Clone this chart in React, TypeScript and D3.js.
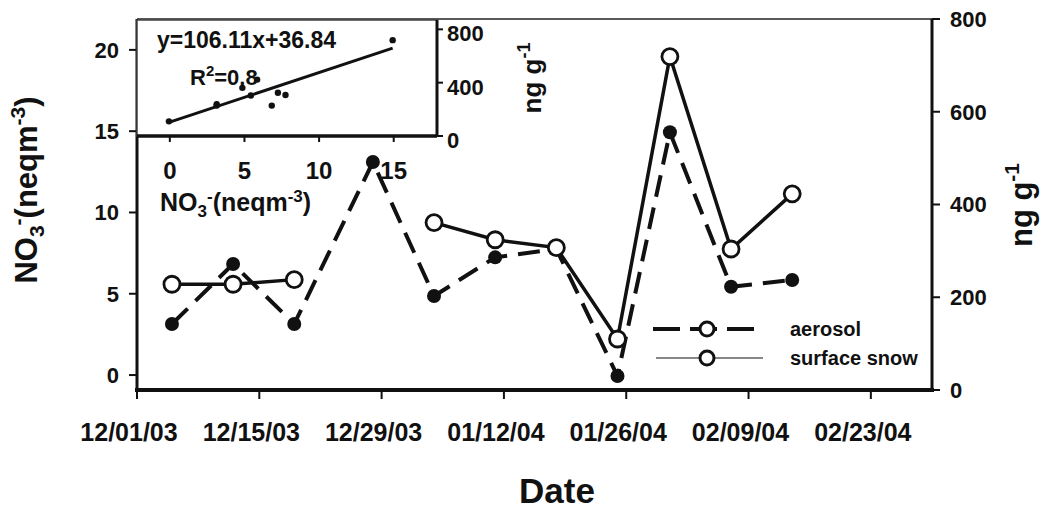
import React from 'react';
import * as d3 from 'd3';

// sampling dates and the two series (aerosol in neq m-3, surface snow in ng g-1)
const sampleDates = [
  '12/05/03', '12/12/03', '12/19/03', '12/28/03', '01/04/04', '01/11/04',
  '01/18/04', '01/25/04', '01/31/04', '02/07/04', '02/14/04',
];
const aerosolNeq = [3.14, 6.83, 3.14, 13.1, 4.86, 7.24, 7.75, -0.06, 14.93, 5.43, 5.85];
const snowNg = [228, 228, 238, null, 361, 324, 307, 110, 719, 304, 423];

const dateTicks = ['12/01/03', '12/15/03', '12/29/03', '01/12/04', '01/26/04', '02/09/04', '02/23/04'];
const leftTicks = [0, 5, 10, 15, 20];
const rightTicks = [0, 200, 400, 600, 800];
const insetXTicks = [0, 5, 10, 15];
const insetYTicks = [0, 400, 800];
const equationText = 'y=106.11x+36.84';
const r2Value = '=0.8';
const seriesNames = ['aerosol', 'surface snow'];

const FONT = "'Liberation Sans', Arial, Helvetica, sans-serif";
const parse = d3.timeParse('%m/%d/%y');

type Pt = { date: Date; aer: number; snow: number | null };

const App = () => {
  const left = 137, right = 932, top = 19, bottom = 390;

  const x = d3.scaleTime().domain([parse('12/01/03')!, parse('03/01/04')!]).range([left, right]);
  const yL = d3.scaleLinear().domain([-0.92, 21.9]).range([bottom, top]);
  const yR = d3.scaleLinear().domain([0, 800]).range([bottom, top]);

  const pts: Pt[] = sampleDates.map((d, i) => ({ date: parse(d)!, aer: aerosolNeq[i], snow: snowNg[i] }));

  const aerLine = d3.line<Pt>().x((d) => x(d.date)).y((d) => yL(d.aer));
  const snowLine = d3
    .line<Pt>()
    .defined((d) => d.snow != null)
    .x((d) => x(d.date))
    .y((d) => yR(d.snow as number));

  // inset scatter: aerosol vs snow on the same days
  const iLeft = 137, iRight = 437, iTop = 20, iBottom = 136;
  const ix = d3.scaleLinear().domain([-2.2, 17.9]).range([iLeft, iRight]);
  const iy = d3.scaleLinear().domain([0, 870]).range([iBottom, iTop]);
  const pairs = pts.filter((d) => d.snow != null);
  const mx = d3.mean(pairs, (d) => d.aer)!;
  const my = d3.mean(pairs, (d) => d.snow as number)!;
  const slope =
    d3.sum(pairs, (d) => (d.aer - mx) * ((d.snow as number) - my)) / d3.sum(pairs, (d) => (d.aer - mx) ** 2);
  const icpt = my - slope * mx;
  const [fx0, fx1] = d3.extent(pairs, (d) => d.aer) as [number, number];

  const bold = { fontFamily: FONT, fontWeight: 'bold' as const, fill: '#111' };

  return (
    <svg width={1055} height={520} style={{ position: 'absolute', left: 0, top: 0, background: '#fff' }}>
      {/* plot frame */}
      <line x1={left} x2={right} y1={top} y2={top} stroke="#222" strokeWidth={1.5} />
      <line x1={left} x2={left} y1={top} y2={bottom} stroke="#111" strokeWidth={3} />
      <line x1={right} x2={right} y1={top} y2={bottom} stroke="#111" strokeWidth={3} />
      <line x1={left - 2} x2={right + 2} y1={bottom} y2={bottom} stroke="#111" strokeWidth={4} />

      {/* left axis */}
      {leftTicks.map((t) => (
        <g key={'l' + t}>
          <line x1={left - 8} x2={left} y1={yL(t)} y2={yL(t)} stroke="#111" strokeWidth={2} />
          <text x={119} y={yL(t)} dy="0.36em" textAnchor="end" fontSize={22} {...bold}>
            {t}
          </text>
        </g>
      ))}
      {/* right axis */}
      {rightTicks.map((t) => (
        <g key={'r' + t}>
          <line x1={right} x2={right + 8} y1={yR(t)} y2={yR(t)} stroke="#111" strokeWidth={2} />
          <text x={950} y={yR(t)} dy="0.36em" textAnchor="start" fontSize={22} {...bold}>
            {t}
          </text>
        </g>
      ))}
      {/* date axis */}
      {dateTicks.map((t) => {
        const px = x(parse(t)!);
        return (
          <g key={t}>
            <line x1={px} x2={px} y1={bottom} y2={bottom + 9} stroke="#111" strokeWidth={2} />
            <text x={px - 8} y={441} textAnchor="middle" fontSize={25} {...bold}>
              {t}
            </text>
          </g>
        );
      })}

      {/* axis titles */}
      <text transform="translate(37,190) rotate(-90)" textAnchor="middle" fontSize={31} {...bold}>
        NO
        <tspan fontSize={21} dy={7}>3</tspan>
        <tspan fontSize={21} dy={-19}>-</tspan>
        <tspan dy={12}>(neqm</tspan>
        <tspan fontSize={21} dy={-12}>-3</tspan>
        <tspan dy={12}>)</tspan>
      </text>
      <text transform="translate(1032,205) rotate(-90)" textAnchor="middle" fontSize={31} {...bold}>
        ng g<tspan fontSize={21} dy={-13}>-1</tspan>
      </text>
      <text x={557} y={503} textAnchor="middle" fontSize={35} {...bold}>
        Date
      </text>

      {/* series */}
      <path d={aerLine(pts) || ''} fill="none" stroke="#111" strokeWidth={4} strokeDasharray="22 11" />
      {pts.map((d, i) => (
        <circle key={'a' + i} cx={x(d.date)} cy={yL(d.aer)} r={7} fill="#111" />
      ))}
      <path d={snowLine(pts) || ''} fill="none" stroke="#111" strokeWidth={3.5} />
      {pts
        .filter((d) => d.snow != null)
        .map((d, i) => (
          <circle key={'s' + i} cx={x(d.date)} cy={yR(d.snow as number)} r={8} fill="#fff" stroke="#111" strokeWidth={2.8} />
        ))}

      {/* legend */}
      <line x1={653} x2={754} y1={329} y2={329} stroke="#111" strokeWidth={4} strokeDasharray="27 10" />
      <circle cx={707} cy={329} r={7} fill="#fff" stroke="#111" strokeWidth={3} />
      <text x={790} y={329} dy="0.35em" fontSize={20} {...bold}>
        {seriesNames[0]}
      </text>
      <line x1={656} x2={763} y1={358} y2={358} stroke="#111" strokeWidth={1.2} />
      <circle cx={707} cy={358} r={7} fill="#fff" stroke="#111" strokeWidth={3} />
      <text x={790} y={358} dy="0.35em" fontSize={20} {...bold}>
        {seriesNames[1]}
      </text>

      {/* inset */}
      <rect x={iLeft} y={iTop} width={iRight - iLeft} height={iBottom - iTop} fill="#fff" stroke="#444" strokeWidth={1.5} />
      <line x1={iLeft} x2={iRight} y1={iBottom} y2={iBottom} stroke="#111" strokeWidth={3.5} />
      <line x1={iRight} x2={iRight} y1={iTop} y2={iBottom} stroke="#111" strokeWidth={3} />
      {insetXTicks.map((t) => (
        <g key={'ix' + t}>
          <line x1={ix(t)} x2={ix(t)} y1={iBottom} y2={iBottom + 6} stroke="#111" strokeWidth={2} />
          <text x={ix(t)} y={179} textAnchor="middle" fontSize={24} {...bold}>
            {t}
          </text>
        </g>
      ))}
      {insetYTicks.map((t) => (
        <g key={'iy' + t}>
          <line x1={iRight} x2={iRight + 6} y1={iy(t)} y2={iy(t)} stroke="#111" strokeWidth={2} />
          <text x={447} y={iy(t) + 4} dy="0.36em" fontSize={22} {...bold}>
            {t}
          </text>
        </g>
      ))}
      <text x={160} y={211} fontSize={25} {...bold}>
        NO
        <tspan fontSize={17} dy={6}>3</tspan>
        <tspan fontSize={17} dy={-15}>-</tspan>
        <tspan dy={9}>(neqm</tspan>
        <tspan fontSize={17} dy={-9}>-3</tspan>
        <tspan dy={9}>)</tspan>
      </text>
      <text transform="translate(541,78) rotate(-90)" textAnchor="middle" fontSize={26} {...bold}>
        ng g<tspan fontSize={18} dy={-11}>-1</tspan>
      </text>
      <line
        x1={ix(fx0)}
        x2={ix(fx1)}
        y1={iy(icpt + slope * fx0)}
        y2={iy(icpt + slope * fx1)}
        stroke="#111"
        strokeWidth={3}
      />
      {pairs.map((d, i) => (
        <circle key={'p' + i} cx={ix(d.aer)} cy={iy(d.snow as number)} r={3.2} fill="#111" />
      ))}
      <text x={157} y={48} fontSize={23} {...bold}>
        {equationText}
      </text>
      <text x={190} y={85} fontSize={22} {...bold}>
        R<tspan fontSize={15} dy={-9}>2</tspan>
        <tspan dy={9}>{r2Value}</tspan>
      </text>
    </svg>
  );
};

export default App;
